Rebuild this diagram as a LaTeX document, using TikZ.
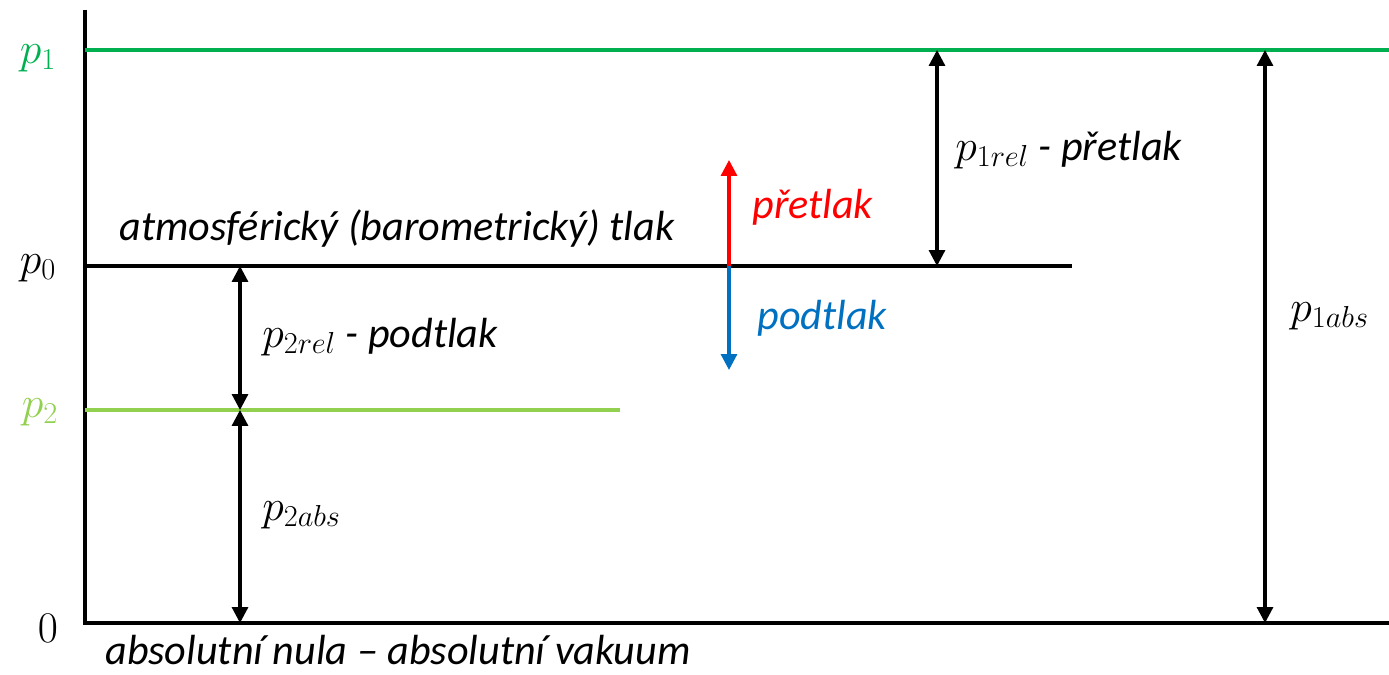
\documentclass[tikz,border=0pt]{standalone}
\usepackage{amsmath}
\usepackage{fontspec}
\setmainfont{Carlito}
\usetikzlibrary{arrows.meta}
\usetikzlibrary{positioning}

\definecolor{tlakgreen}{RGB}{0,176,80}
\definecolor{tlaklight}{RGB}{146,208,80}
\definecolor{tlakblue}{RGB}{0,112,192}

\tikzset{
  level/.style={line width=2pt},
  dimarrow/.style={line width=1.8pt,{Triangle[width=9pt,length=9pt]}-{Triangle[width=9pt,length=9pt]}},
  onearrow/.style={line width=1.8pt,-{Triangle[width=9pt,length=9pt]}},
  label/.style={font=\fontsize{24}{28}\selectfont\itshape,inner sep=0pt},
  mlabel/.style={font=\fontsize{25}{30}\selectfont,inner sep=0pt}
}

\begin{document}
\begin{tikzpicture}[x=0.02cm,y=-0.02cm]
    \useasboundingbox (0,0) rectangle (1389,675);

    % axes
    \coordinate (top) at (85,10);
    \coordinate (origin) at (85,623);
    \coordinate (right) at (1389,623);
    \draw [level] (top) -- (origin) -- (right);

    % pressure levels
    \coordinate (p1l) at (85,50);
    \coordinate (p1r) at (1389,50);
    \coordinate (p0l) at (85,266);
    \coordinate (p0r) at (1072,266);
    \coordinate (p2l) at (85,410);
    \coordinate (p2r) at (620,410);
    \draw [level,tlakgreen] (p1l) -- (p1r);
    \draw [level] (p0l) -- (p0r);
    \draw [level,tlaklight] (p2l) -- (p2r);

    \node [mlabel,text=tlakgreen] (lp1) at (38,58) {$p_1$};
    \node [mlabel] (lp0) at (38,268) {$p_0$};
    \node [mlabel,text=tlaklight] (lp2) at (40,412) {$p_2$};
    \node [mlabel] (lzero) at (48,628) {$0$};

    \node [label] (atm) at (397,228) {atmosférický (barometrický) tlak};
    \node [label,anchor=base west] (vak) at (105,664) {absolutní nula – absolutní vakuum};

    % overpressure / underpressure direction
    \coordinate (mid) at (729,266);
    \coordinate (up) at (729,160);
    \coordinate (down) at (729,370);
    \draw [onearrow,red] (mid) -- (up);
    \draw [onearrow,tlakblue] (mid) -- (down);
    \node [label,text=red,anchor=west] (pre) at (752,207) {přetlak};
    \node [label,text=tlakblue,anchor=west] (pod) at (757,318) {podtlak};

    % relative and absolute values
    \coordinate (a1t) at (937,50);
    \coordinate (a1b) at (937,266);
    \draw [dimarrow] (a1t) -- (a1b);
    \node [label,anchor=west] (p1rel) at (955,150) {$p_{1rel}$ - přetlak};

    \coordinate (a2t) at (240,266);
    \coordinate (a2m) at (240,410);
    \coordinate (a2b) at (240,623);
    \draw [dimarrow] (a2t) -- (a2m);
    \draw [dimarrow] (a2m) -- (a2b);
    \node [label,anchor=west] (p2rel) at (262,337) {$p_{2rel}$ - podtlak};
    \node [mlabel,anchor=west] (p2abs) at (262,515) {$p_{2abs}$};

    \coordinate (a3t) at (1265,50);
    \coordinate (a3b) at (1265,623);
    \draw [dimarrow] (a3t) -- (a3b);
    \node [mlabel,anchor=west] (p1abs) at (1290,316) {$p_{1abs}$};

\end{tikzpicture}
\end{document}
